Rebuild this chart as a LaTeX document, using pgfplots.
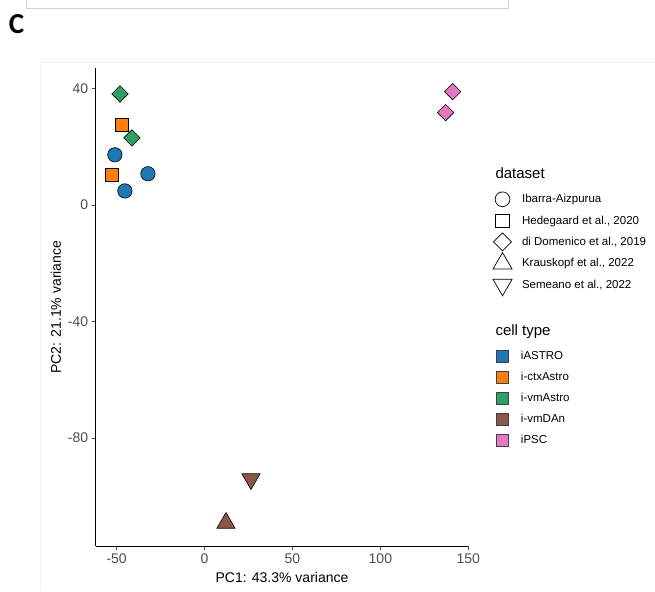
\documentclass[border=0pt]{standalone}
\usepackage{pgfplots}
\pgfplotsset{compat=1.18}
\usepackage{fontspec}
\setmainfont{Liberation Sans}
\newfontfamily\carlito{Carlito}
\definecolor{cBlue}{HTML}{1F77B4}
\definecolor{cOrange}{HTML}{FF7F0E}
\definecolor{cGreen}{HTML}{2E9E63}
\definecolor{cBrown}{HTML}{8C564B}
\definecolor{cPink}{HTML}{E377C2}
\definecolor{tickgray}{HTML}{4D4D4D}
\begin{document}
\begin{tikzpicture}
\useasboundingbox (0,0) rectangle (655pt,-591pt);
% remnants of neighbouring panel and panel frame
\draw[gray!35, line width=0.6pt] (26.7pt,0pt) -- (26.7pt,-8pt) -- (508pt,-8pt) -- (508pt,0pt);
\draw[gray!12, line width=0.6pt] (40pt,-591pt) -- (40pt,-62pt) -- (655pt,-62pt);
\node[font=\carlito\fontsize{29}{29}\selectfont\bfseries] at (16.5pt,-24pt) {C};

\begin{axis}[
  at={(95.7pt,-546pt)}, anchor=south west,
  scale only axis, width=372.6pt, height=477.7pt,
  xmin=-61.9, xmax=150, ymin=-117.1, ymax=46.9,
  axis x line*=bottom, axis y line*=left,
  axis line style={black, line width=0.7pt},
  every tick/.style={tickgray, line width=0.6pt},
  tick align=outside, major tick length=4pt,
  xtick={-50,0,50,100,150}, xticklabels={-50,0,50,100,150},
  ytick={-80,-40,0,40}, yticklabels={-80,-40,0,40},
  tick label style={font=\fontsize{14}{16}\selectfont, text=tickgray},
  xlabel={PC1: 43.3\% variance}, ylabel={PC2: 21.1\% variance},
  label style={font=\fontsize{14}{16}\selectfont},
  xlabel style={yshift=-2pt}, ylabel style={yshift=0pt},
  clip=false,
  legend style={at={(1.0663,0.7481)}, anchor=north west, draw=none, fill=none,
    inner sep=0pt, outer sep=0pt, row sep=0pt,
    font=\fontsize{11.5}{13}\selectfont,
    nodes={inner xsep=0pt, inner ysep=0pt, minimum height=21.3pt, anchor=west},
    /tikz/every odd column/.append style={column sep=10pt}},
  legend cell align=left,
  legend image code/.code={\draw[#1] plot coordinates {(0pt,0pt)};},
]
% data
\addplot[only marks, mark=*, mark size=7.2pt, draw=black, fill=cBlue, line width=0.6pt, forget plot]
  coordinates {(-51.0,17.2) (-32.2,10.7) (-45.3,4.8)};
\addplot[only marks, mark=square*, mark size=6.3pt, draw=black, fill=cOrange, line width=0.6pt, forget plot]
  coordinates {(-47.0,27.5) (-52.7,10.3)};
\addplot[only marks, mark=square*, mark size=5.8pt, mark options={rotate=45}, draw=black, fill=cGreen, line width=0.6pt, forget plot]
  coordinates {(-48.1,38.1) (-41.3,23.0)};
\addplot[only marks, mark=square*, mark size=5.8pt, mark options={rotate=45}, draw=black, fill=cPink, line width=0.6pt, forget plot]
  coordinates {(141.1,38.9) (137.1,31.7)};
\addplot[only marks, mark=triangle*, mark size=10.5pt, draw=black, fill=cBrown, line width=0.6pt, forget plot]
  coordinates {(12.2,-109.2)};
\addplot[only marks, mark=triangle*, mark size=10.5pt, mark options={rotate=180}, draw=black, fill=cBrown, line width=0.6pt, forget plot]
  coordinates {(26.4,-94.1)};
% dataset legend
\addlegendimage{only marks, mark=*, mark size=7.4pt, draw=black, fill=white, line width=0.7pt}
\addlegendentry{Ibarra-Aizpurua}
\addlegendimage{only marks, mark=square, mark size=6.7pt, draw=black, line width=0.7pt}
\addlegendentry{Hedegaard et al., 2020}
\addlegendimage{only marks, mark=square, mark size=6.4pt, mark options={rotate=45}, draw=black, line width=0.7pt}
\addlegendentry{di Domenico et al., 2019}
\addlegendimage{only marks, mark=triangle, mark size=11pt, draw=black, line width=0.7pt}
\addlegendentry{Krauskopf et al., 2022}
\addlegendimage{only marks, mark=triangle, mark size=11pt, mark options={rotate=180}, draw=black, line width=0.7pt}
\addlegendentry{Semeano et al., 2022}
\end{axis}

\begin{axis}[
  at={(95.7pt,-546pt)}, anchor=south west,
  scale only axis, width=372.6pt, height=477.7pt,
  xmin=-61.9, xmax=150, ymin=-117.1, ymax=46.9,
  hide axis,
  legend style={at={(1.0743,0.4199)}, anchor=north west, draw=none, fill=none,
    inner sep=0pt, outer sep=0pt, row sep=0pt,
    font=\fontsize{11.5}{13}\selectfont,
    nodes={inner xsep=0pt, inner ysep=0pt, minimum height=21pt, anchor=west},
    /tikz/every odd column/.append style={column sep=13pt}},
  legend cell align=left,
  legend image code/.code={\draw[#1] plot coordinates {(0pt,0pt)};},
]
\addlegendimage{only marks, mark=square*, mark size=6pt, draw=black!75, fill=cBlue, line width=0.6pt}
\addlegendentry{iASTRO}
\addlegendimage{only marks, mark=square*, mark size=6pt, draw=black!75, fill=cOrange, line width=0.6pt}
\addlegendentry{i-ctxAstro}
\addlegendimage{only marks, mark=square*, mark size=6pt, draw=black!75, fill=cGreen, line width=0.6pt}
\addlegendentry{i-vmAstro}
\addlegendimage{only marks, mark=square*, mark size=6pt, draw=black!75, fill=cBrown, line width=0.6pt}
\addlegendentry{i-vmDAn}
\addlegendimage{only marks, mark=square*, mark size=6pt, draw=black!75, fill=cPink, line width=0.6pt}
\addlegendentry{iPSC}
\end{axis}

\node[anchor=west, font=\fontsize{15}{17}\selectfont] at (492pt,-173pt) {dataset};
\node[anchor=west, font=\fontsize{15}{17}\selectfont] at (492pt,-331.7pt) {cell type};
\end{tikzpicture}
\end{document}
